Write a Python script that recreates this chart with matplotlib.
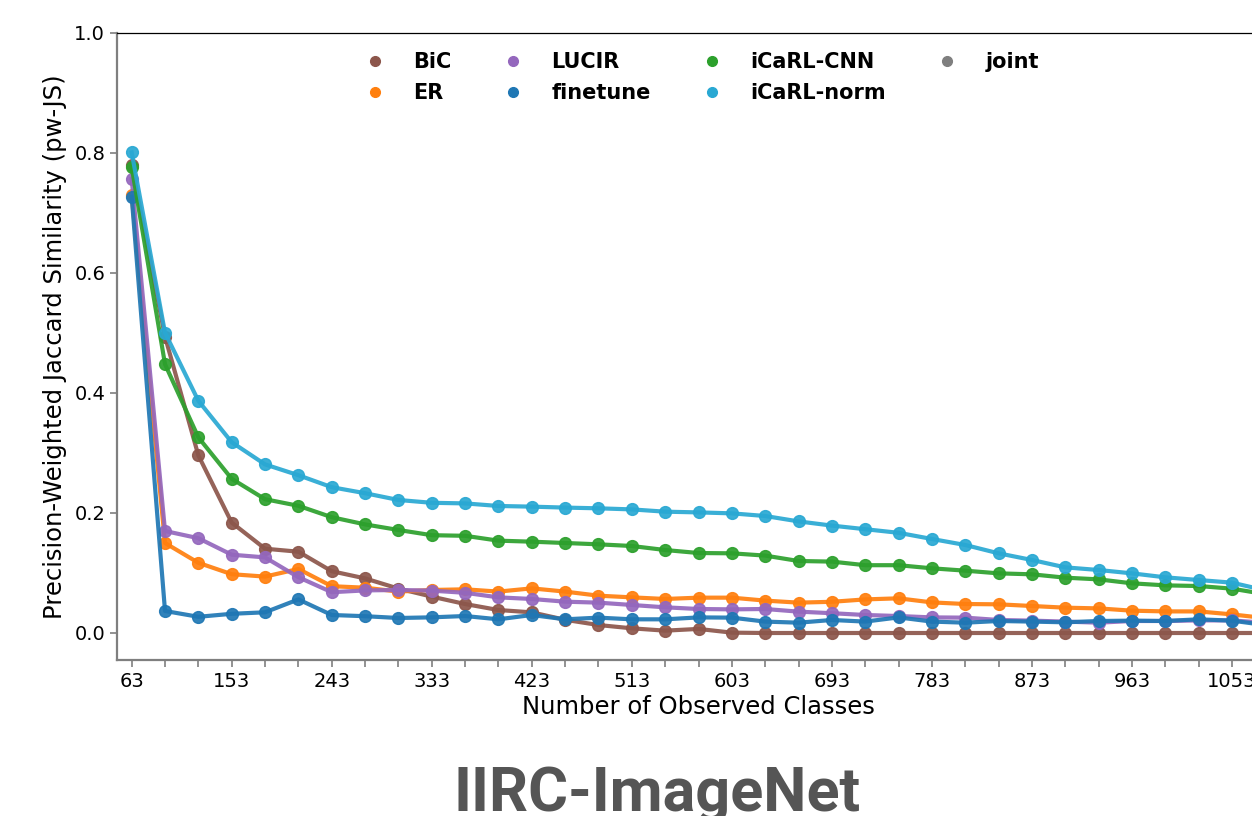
import matplotlib
matplotlib.use("Agg")
import matplotlib.pyplot as plt
from matplotlib.lines import Line2D

# number of observed classes: 63 first task, then +30 per task
classes = [63 + 30 * i for i in range(35)]

bic = [0.78, 0.494, 0.296, 0.184, 0.1405, 0.1355, 0.103, 0.091, 0.074, 0.0606,
       0.0483, 0.0383, 0.0344, 0.022, 0.0133, 0.0078, 0.0039, 0.0068, 0.0006, 0.0,
       0.0, 0.0, 0.0, 0.0, 0.0, 0.0, 0.0, 0.0, 0.0, 0.0,
       0.0, 0.0, 0.0, 0.0, 0.0]
er = [0.73, 0.15, 0.117, 0.098, 0.094, 0.1067, 0.078, 0.0755, 0.069, 0.0717,
      0.0728, 0.069, 0.0744, 0.069, 0.0622, 0.0594, 0.0567, 0.0589, 0.0589, 0.054,
      0.0506, 0.052, 0.056, 0.0578, 0.051, 0.0483, 0.0478, 0.045, 0.0422, 0.041,
      0.0372, 0.036, 0.036, 0.031, 0.0248]
lucir = [0.757, 0.17, 0.158, 0.1305, 0.126, 0.093, 0.068, 0.071, 0.0717, 0.0706,
         0.067, 0.0594, 0.0567, 0.0522, 0.0506, 0.0467, 0.0428, 0.040, 0.0394, 0.040,
         0.0356, 0.033, 0.030, 0.0283, 0.026, 0.0256, 0.0217, 0.0206, 0.019, 0.0172,
         0.020, 0.020, 0.021, 0.021, 0.017]
finetune = [0.727, 0.0367, 0.027, 0.032, 0.0345, 0.056, 0.030, 0.028, 0.025, 0.0261,
            0.0283, 0.0228, 0.030, 0.0228, 0.0256, 0.0228, 0.0228, 0.026, 0.0256, 0.019,
            0.0172, 0.0217, 0.019, 0.026, 0.019, 0.0172, 0.020, 0.019, 0.0178, 0.020,
            0.0206, 0.020, 0.0228, 0.0206, 0.0132]
icarl_cnn = [0.777, 0.448, 0.326, 0.257, 0.223, 0.212, 0.193, 0.181, 0.1717, 0.163,
             0.162, 0.1539, 0.1522, 0.150, 0.1478, 0.145, 0.1383, 0.1333, 0.1328, 0.129,
             0.120, 0.119, 0.113, 0.113, 0.1078, 0.1039, 0.0994, 0.0978, 0.0922, 0.0894,
             0.0828, 0.0794, 0.0783, 0.0739, 0.0647]
icarl_norm = [0.801, 0.5005, 0.387, 0.318, 0.281, 0.263, 0.243, 0.233, 0.2217, 0.217,
              0.216, 0.2117, 0.2106, 0.209, 0.2078, 0.206, 0.2022, 0.201, 0.1994, 0.195,
              0.186, 0.179, 0.173, 0.167, 0.1567, 0.1467, 0.1328, 0.1217, 0.1094, 0.105,
              0.0994, 0.0928, 0.0883, 0.0839, 0.0711]
joint = []  # only appears in the legend

methods = ["BiC", "ER", "LUCIR", "finetune", "iCaRL-CNN", "iCaRL-norm", "joint"]
series = [bic, er, lucir, finetune, icarl_cnn, icarl_norm, joint]
colors = ["#8c564b", "#ff7f0e", "#9467bd", "#1f77b4", "#2ca02c", "#29a8d3", "#7f7f7f"]

fig = plt.figure(figsize=(12.52, 8.16), dpi=100)
# axes runs past the right edge on purpose (the original picture is cropped)
ax = fig.add_axes([117 / 1252, 156 / 816, 1163 / 1252, 627 / 816])

for vals, c in zip(series, colors):
    ax.plot(classes[:len(vals)], vals, color=c, lw=3, marker="o", ms=8.5, alpha=0.92)

ax.set_xlim(49.8, 1096.2)
ax.set_ylim(-0.045, 1.0)
ax.set_xticks(classes)
ax.set_xticklabels([str(c) if i % 3 == 0 else "" for i, c in enumerate(classes)])
ax.set_yticks([0.0, 0.2, 0.4, 0.6, 0.8, 1.0])
ax.tick_params(labelsize=14, color="#7f7f7f", length=5, width=1.2)

for side in ["left", "bottom"]:
    ax.spines[side].set_color("#7f7f7f")
    ax.spines[side].set_linewidth(1.6)
ax.spines["top"].set_color("black")
ax.spines["top"].set_linewidth(0.9)
ax.spines["right"].set_visible(False)

ax.set_xlabel("Number of Observed Classes", fontsize=17.5, labelpad=3)
ax.set_ylabel("Precision-Weighted Jaccard Similarity (pw-JS)", fontsize=17.5, labelpad=5)

handles = [Line2D([], [], ls="none", marker="o", ms=7, color=c) for c in colors]
leg = fig.legend(handles, methods, loc="upper left", bbox_to_anchor=(365 / 1252, 1 - 52 / 816),
                 ncol=4, frameon=False, fontsize=15, handlelength=1.0, handletextpad=1.33,
                 columnspacing=2.45, labelspacing=0.55, borderpad=0, borderaxespad=0)
for t in leg.get_texts():
    t.set_fontweight("bold")

fig.text(657 / 1252, 1 - 811 / 816, "IIRC-ImageNet", ha="center", va="baseline",
         fontsize=44, fontweight="bold", color="#555555", family="Roboto")

fig.savefig("out.png", dpi=100)
